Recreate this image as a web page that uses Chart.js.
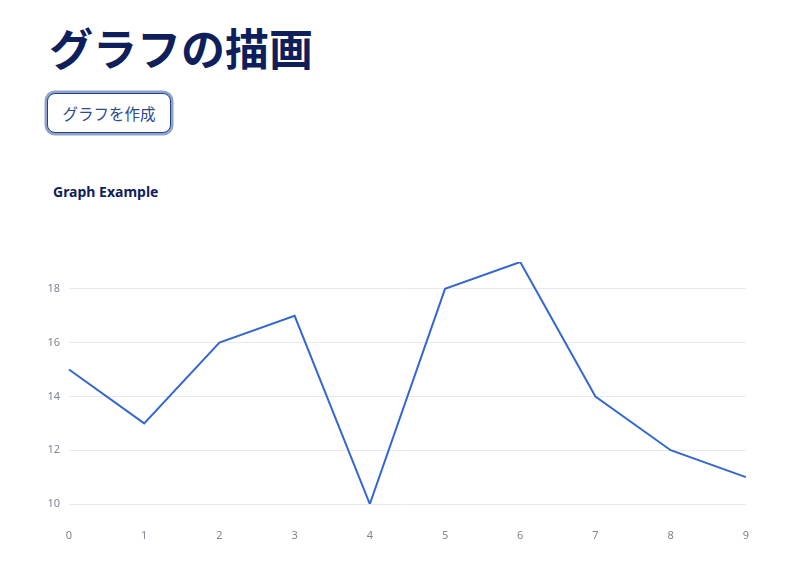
<!DOCTYPE html>
<html>
<head>
<meta charset="utf-8">
<script src="https://cdn.jsdelivr.net/npm/chart.js@4"></script>
<style>
  body { margin: 0; background: #fff; font-family: "Noto Sans CJK JP", "Noto Sans", sans-serif; }
  h1 {
    position: absolute; left: 49px; top: 12px; margin: 0;
    font-size: 44px; font-weight: 700; color: #0f1f5c; letter-spacing: 0;
    line-height: 70px;
  }
  .btn {
    position: absolute; left: 47px; top: 93px; width: 124px; height: 40px;
    box-sizing: border-box; border: 1px solid #24418a; border-radius: 8px;
    box-shadow: 0 0 0 2.5px #8ea3cc; background: #fff; color: #2b4a8e;
    font-family: "Noto Sans CJK JP", sans-serif; font-size: 15.5px;
    display: flex; align-items: center; justify-content: center;
  }
  .sub {
    position: absolute; left: 53px; top: 182px; margin: 0;
    font-family: "Noto Sans", sans-serif; font-weight: 700; font-size: 14px; color: #0f1f5c;
  }
  #wrap { position: absolute; left: 30px; top: 210px; width: 744px; height: 350px; }
</style>
</head>
<body>
<h1>グラフの描画</h1>
<div class="btn">グラフを作成</div>
<div class="sub">Graph Example</div>
<div id="wrap"><canvas id="lineChart"></canvas></div>
<script>
const categories = [0, 1, 2, 3, 4, 5, 6, 7, 8, 9];
const values = [15, 13, 16, 17, 10, 18, 19, 14, 12, 11];
const yTicks = [10, 12, 14, 16, 18];

document.addEventListener("DOMContentLoaded", () => {
  const ctx = document.getElementById("lineChart").getContext("2d");

  new Chart(ctx, {
    type: "line",
    data: {
      labels: categories,
      datasets: [
        {
          label: "Graph Example",
          data: values,
          borderColor: "#3467cf",
          borderWidth: 2,
          pointRadius: 0,
          tension: 0,
          fill: false,
        },
      ],
    },
    options: {
      responsive: true,
      maintainAspectRatio: false,
      animation: false,
      layout: { padding: { top: 52, right: 10, left: 0, bottom: 0 } },
      plugins: {
        legend: { display: false },
        tooltip: { enabled: false },
      },
      scales: {
        x: {
          offset: false,
          grid: { display: false, drawTicks: false },
          border: { display: false },
          ticks: {
            color: "#808495",
            font: { family: "Noto Sans", size: 11 },
            padding: 25,
            maxRotation: 0,
          },
          afterFit: (scale) => { scale.height = 56; },
        },
        y: {
          min: 10,
          max: 19,
          grid: { color: "#e6e9ef", drawTicks: false },
          border: { display: false },
          ticks: {
            color: "#808495",
            font: { family: "Noto Sans", size: 11 },
            padding: 9,
          },
          afterBuildTicks: (scale) => {
            scale.ticks = yTicks.map((v) => ({ value: v }));
          },
          afterFit: (scale) => { scale.width = 39; },
        },
      },
    },
  });
});
</script>
</body>
</html>
